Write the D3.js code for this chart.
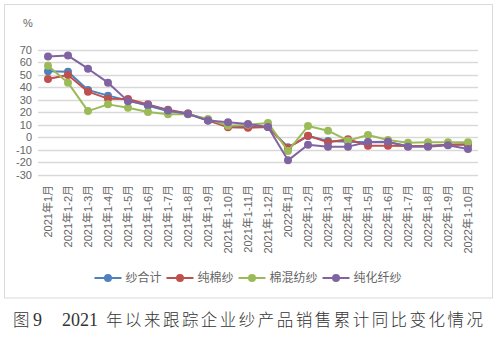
<!DOCTYPE html>
<html>
<head>
<meta charset="utf-8">
<script src="https://cdn.jsdelivr.net/npm/d3@7"></script>
<style>
  html, body { margin: 0; padding: 0; background: #fff; }
  svg { display: block; }
  text { font-family: "Liberation Sans", "Noto Sans CJK SC", sans-serif; }
</style>
</head>
<body>
<svg id="chart" width="500" height="342"></svg>
<script>
const categories = [
  "2021年1月", "2021年1-2月", "2021年1-3月", "2021年1-4月", "2021年1-5月", "2021年1-6月",
  "2021年1-7月", "2021年1-8月", "2021年1-9月", "2021年1-10月", "2021年1-11月", "2021年1-12月",
  "2022年1月", "2022年1-2月", "2022年1-3月", "2022年1-4月", "2022年1-5月", "2022年1-6月",
  "2022年1-7月", "2022年1-8月", "2022年1-9月", "2022年1-10月"
];
const yarnTotal  = [53, 52.6, 38, 33.4, 29.6, 25.3, 21, 19, 13.5, 9, 8.3, 8.3, -8, 1, -3, -3.5, -4, -4, -7, -7, -6, -6];
const pureCotton = [46.7, 50, 36.6, 31, 30.7, 26.4, 22, 19, 13.6, 8, 7.7, 8.3, -8.5, 1.3, -4, -1.6, -6.7, -6.7, -7, -7, -6, -5.6];
const blended    = [57.4, 43.8, 21, 26.4, 23.7, 20.3, 18.5, 18.5, 14.7, 9.3, 10, 11.5, -11, 9, 5.3, -2.7, 1.9, -2.1, -4.3, -4, -4, -4];
const chemFiber  = [64.7, 65.5, 55, 43.8, 29, 26, 21.5, 18.7, 13.5, 12, 10.7, 8.3, -18.5, -6, -7.5, -7.5, -3.7, -3.5, -7.5, -7.5, -6.4, -9.4];
const seriesNames = ["纱合计", "纯棉纱", "棉混纺纱", "纯化纤纱"];
const yTicks = [70, 60, 50, 40, 30, 20, 10, 0, -10, -20, -30];
const unitLabel = "%";
const caption = ["图", "9", "2021", "年以来跟踪企业纱产品销售累计同比变化情况"];

const colors = ["#4F81BD", "#C0504D", "#9BBB59", "#8064A2"];
const seriesData = [yarnTotal, pureCotton, blended, chemFiber];

const svg = d3.select("#chart");

// outer frame
svg.append("rect").attr("x", 4.5).attr("y", 4.5).attr("width", 488).attr("height", 293.5)
  .attr("fill", "#fff").attr("stroke", "#d9d9d9").attr("stroke-width", 1);

const x = d3.scaleBand().domain(categories).range([38, 478]);
const y = d3.scaleLinear().domain([-30, 70]).range([174.7, 50]);

// gridlines
svg.append("g").selectAll("line").data(yTicks).join("line")
  .attr("x1", 38).attr("x2", 478)
  .attr("y1", d => Math.round(y(d)) + 0.5).attr("y2", d => Math.round(y(d)) + 0.5)
  .attr("stroke", "#d9d9d9").attr("stroke-width", 1.3);

// y tick labels
svg.append("g").selectAll("text").data(yTicks).join("text")
  .attr("x", 32).attr("y", d => y(d)).attr("dy", "0.36em")
  .attr("text-anchor", "end").attr("font-size", 11).attr("fill", "#666")
  .text(d => d);

svg.append("text").attr("x", 28).attr("y", 23).attr("dy", "0.36em")
  .attr("text-anchor", "middle").attr("font-size", 11).attr("fill", "#666").text(unitLabel);

// x labels
svg.append("g").selectAll("text").data(categories).join("text")
  .attr("transform", d => `translate(${x(d) + x.bandwidth() / 2},185) rotate(-90)`)
  .attr("dy", "0.35em").attr("text-anchor", "end")
  .attr("font-size", 11).attr("fill", "#666")
  .text(d => d);

// series
const line = d3.line().x((d, i) => x(categories[i]) + x.bandwidth() / 2).y(d => y(d));
seriesData.forEach((vals, s) => {
  const g = svg.append("g");
  g.append("path").attr("d", line(vals)).attr("fill", "none")
    .attr("stroke", colors[s]).attr("stroke-width", 2).attr("stroke-linejoin", "round");
  g.selectAll("circle").data(vals).join("circle")
    .attr("cx", (d, i) => x(categories[i]) + x.bandwidth() / 2)
    .attr("cy", d => y(d)).attr("r", 4).attr("fill", colors[s]);
});

// legend
const legend = svg.append("g");
const items = seriesNames.map((name, i) => {
  const g = legend.append("g");
  g.append("line").attr("x1", 0).attr("x2", 27).attr("y1", 0).attr("y2", 0)
    .attr("stroke", colors[i]).attr("stroke-width", 2);
  g.append("circle").attr("cx", 13.5).attr("cy", 0).attr("r", 4).attr("fill", colors[i]);
  const t = g.append("text").attr("x", 31).attr("dy", "0.36em").attr("font-size", 12)
    .attr("fill", "#666").text(name);
  return { g, w: 31 + t.node().getComputedTextLength() };
});
const gap = 5;
const total = d3.sum(items, d => d.w) + gap * (items.length - 1);
let cx = 248 - total / 2;
items.forEach(it => { it.g.attr("transform", `translate(${cx},278)`); cx += it.w + gap; });

// caption
const cap = svg.append("g").attr("fill", "#333").attr("font-size", 16.5);
cap.append("text").attr("x", 13).attr("y", 326).style("font-family", "'Noto Sans CJK SC', sans-serif")
  .style("font-weight", 300).text(caption[0]);
cap.append("text").attr("x", 33).attr("y", 326).style("font-family", "'Liberation Serif', serif")
  .attr("font-size", 18).text(caption[1]);
cap.append("text").attr("x", 62).attr("y", 326).style("font-family", "'Liberation Serif', serif")
  .attr("font-size", 18).text(caption[2]);
cap.append("text").attr("x", 106).attr("y", 326).attr("textLength", 377)
  .attr("lengthAdjust", "spacing").style("font-family", "'Noto Sans CJK SC', sans-serif")
  .style("font-weight", 300).text(caption[3]);
</script>
</body>
</html>
